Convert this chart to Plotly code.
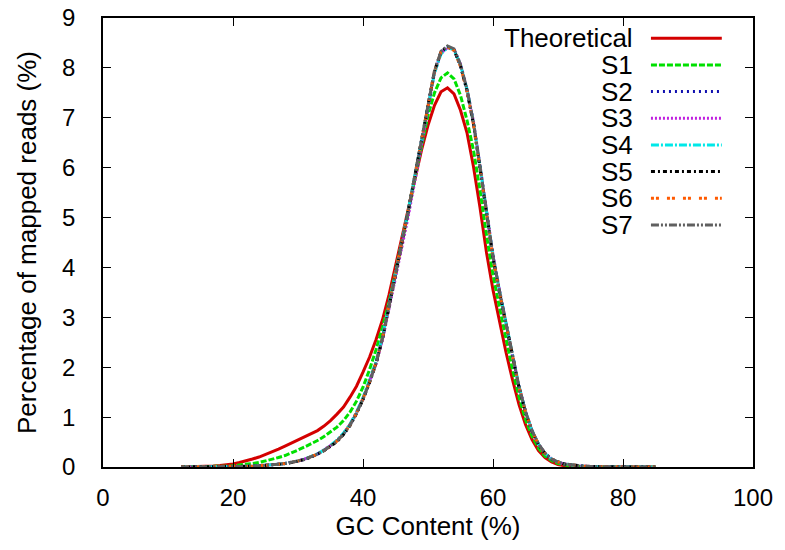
import plotly.graph_objects as go

# -----------------------
# Data
# -----------------------

gc = list(range(12, 86))

theoretical = [
    0.0, 0.002, 0.004, 0.006, 0.01, 0.02, 0.03, 0.045, 0.06, 0.09,      # 12-21
    0.12, 0.16, 0.2, 0.25, 0.3, 0.36, 0.42, 0.48, 0.54, 0.6,           # 22-31
    0.66, 0.73, 0.82, 0.93, 1.06, 1.2, 1.4, 1.62, 1.9, 2.2,            # 32-41
    2.55, 2.95, 3.45, 4.02, 4.6, 5.2, 5.78, 6.35, 6.85, 7.25,          # 42-51
    7.52, 7.6, 7.48, 7.15, 6.7, 6.02, 5.2, 4.3, 3.55, 2.9,             # 52-61
    2.3, 1.75, 1.25, 0.85, 0.55, 0.33, 0.19, 0.1, 0.05, 0.025,         # 62-71
    0.012, 0.006, 0.003, 0.002, 0.001, 0.0, 0.0, 0.0, 0.0, 0.0,        # 72-81
    0.0, 0.0, 0.0, 0.0,                                                # 82-85
]

s1 = [
    0.0, 0.001, 0.002, 0.003, 0.005, 0.008, 0.012, 0.018, 0.026, 0.036,
    0.05, 0.07, 0.09, 0.12, 0.15, 0.19, 0.23, 0.28, 0.34, 0.4,
    0.46, 0.53, 0.61, 0.7, 0.8, 0.93, 1.1, 1.32, 1.6, 1.95,
    2.35, 2.8, 3.3, 3.9, 4.5, 5.15, 5.8, 6.45, 7.05, 7.5,
    7.8, 7.9, 7.78, 7.45, 6.95, 6.35, 5.55, 4.65, 3.85, 3.2,
    2.55, 1.95, 1.4, 0.95, 0.62, 0.38, 0.22, 0.13, 0.07, 0.04,
    0.02, 0.01, 0.005, 0.003, 0.002, 0.001, 0.0, 0.0, 0.0, 0.0,
    0.0, 0.0, 0.0, 0.0,
]

s2 = [
    0.0, 0.0, 0.001, 0.001, 0.002, 0.002, 0.003, 0.004, 0.005, 0.008,
    0.012, 0.016, 0.022, 0.03, 0.04, 0.055, 0.07, 0.09, 0.12, 0.155,
    0.2, 0.26, 0.33, 0.42, 0.52, 0.66, 0.84, 1.08, 1.36, 1.7,
    2.08, 2.58, 3.2, 3.85, 4.5, 5.15, 5.85, 6.55, 7.25, 7.92,
    8.3, 8.42, 8.36, 8.05, 7.55, 6.88, 6.0, 5.1, 4.2, 3.5,
    2.85, 2.2, 1.6, 1.1, 0.72, 0.45, 0.27, 0.16, 0.1, 0.06,
    0.04, 0.025, 0.015, 0.01, 0.006, 0.004, 0.002, 0.001, 0.001, 0.0,
    0.0, 0.0, 0.0, 0.0,
]

s3 = [
    0.0, 0.0, 0.001, 0.001, 0.002, 0.002, 0.003, 0.004, 0.006, 0.009,
    0.013, 0.017, 0.023, 0.031, 0.042, 0.056, 0.072, 0.093, 0.12, 0.16,
    0.2, 0.26, 0.34, 0.43, 0.53, 0.67, 0.85, 1.09, 1.37, 1.7,
    2.07, 2.55, 3.15, 3.78, 4.42, 5.05, 5.72, 6.45, 7.2, 7.9,
    8.3, 8.4, 8.37, 8.08, 7.58, 6.92, 6.05, 5.15, 4.25, 3.55,
    2.88, 2.23, 1.62, 1.12, 0.73, 0.46, 0.28, 0.16, 0.1, 0.06,
    0.04, 0.025, 0.015, 0.01, 0.006, 0.004, 0.002, 0.001, 0.001, 0.0,
    0.0, 0.0, 0.0, 0.0,
]

s4 = [
    0.0, 0.0, 0.001, 0.001, 0.002, 0.002, 0.003, 0.004, 0.005, 0.008,
    0.012, 0.017, 0.023, 0.031, 0.041, 0.056, 0.072, 0.092, 0.122, 0.158,
    0.205, 0.265, 0.34, 0.43, 0.54, 0.68, 0.86, 1.1, 1.39, 1.73,
    2.11, 2.62, 3.24, 3.88, 4.53, 5.17, 5.86, 6.55, 7.24, 7.9,
    8.28, 8.41, 8.36, 8.06, 7.57, 6.9, 6.03, 5.13, 4.23, 3.53,
    2.88, 2.22, 1.62, 1.11, 0.73, 0.46, 0.27, 0.16, 0.1, 0.06,
    0.04, 0.025, 0.015, 0.01, 0.006, 0.004, 0.002, 0.001, 0.001, 0.0,
    0.0, 0.0, 0.0, 0.0,
]

s5 = [
    0.0, 0.0, 0.001, 0.001, 0.002, 0.002, 0.003, 0.004, 0.005, 0.008,
    0.011, 0.015, 0.021, 0.029, 0.039, 0.053, 0.068, 0.088, 0.118, 0.152,
    0.196, 0.255, 0.325, 0.415, 0.51, 0.65, 0.83, 1.07, 1.35, 1.69,
    2.07, 2.57, 3.19, 3.84, 4.5, 5.16, 5.87, 6.57, 7.27, 7.94,
    8.32, 8.43, 8.36, 8.04, 7.54, 6.87, 6.0, 5.1, 4.2, 3.5,
    2.85, 2.2, 1.6, 1.1, 0.72, 0.45, 0.27, 0.16, 0.1, 0.06,
    0.04, 0.025, 0.015, 0.01, 0.006, 0.004, 0.002, 0.001, 0.001, 0.0,
    0.0, 0.0, 0.0, 0.0,
]

s6 = [
    0.0, 0.0, 0.001, 0.001, 0.002, 0.002, 0.003, 0.004, 0.005, 0.008,
    0.012, 0.016, 0.022, 0.03, 0.04, 0.055, 0.07, 0.09, 0.12, 0.156,
    0.2, 0.26, 0.33, 0.42, 0.52, 0.66, 0.84, 1.08, 1.37, 1.71,
    2.09, 2.59, 3.21, 3.86, 4.52, 5.17, 5.87, 6.56, 7.26, 7.93,
    8.31, 8.42, 8.35, 8.03, 7.53, 6.86, 5.99, 5.09, 4.19, 3.49,
    2.84, 2.2, 1.6, 1.1, 0.72, 0.45, 0.27, 0.16, 0.1, 0.06,
    0.04, 0.025, 0.015, 0.01, 0.006, 0.004, 0.002, 0.001, 0.001, 0.0,
    0.0, 0.0, 0.0, 0.0,
]

s7 = [
    0.0, 0.0, 0.001, 0.001, 0.002, 0.002, 0.003, 0.004, 0.005, 0.008,
    0.012, 0.016, 0.022, 0.03, 0.04, 0.054, 0.07, 0.09, 0.12, 0.154,
    0.2, 0.258, 0.33, 0.42, 0.52, 0.66, 0.84, 1.08, 1.36, 1.7,
    2.08, 2.58, 3.2, 3.85, 4.5, 5.16, 5.86, 6.56, 7.26, 7.94,
    8.33, 8.44, 8.38, 8.07, 7.57, 6.9, 6.02, 5.12, 4.22, 3.52,
    2.87, 2.21, 1.61, 1.11, 0.73, 0.46, 0.28, 0.16, 0.1, 0.06,
    0.04, 0.025, 0.015, 0.01, 0.006, 0.004, 0.002, 0.001, 0.001, 0.0,
    0.0, 0.0, 0.0, 0.0,
]

names = ["Theoretical", "S1", "S2", "S3", "S4", "S5", "S6", "S7"]
values = [theoretical, s1, s2, s3, s4, s5, s6, s7]

colors = ["#d40000", "#00e000", "#1010b0", "#c020e0", "#00e8e8", "#000000", "#ff5a00", "#606060"]
dashes = [
    "solid",
    "6px,2px",
    "2px,4px",
    "2px,2px",
    "8px,2px,2px,2px",
    "4px,3px,2px,3px",
    "3px,2px,3px,8px",
    "8px,2px,2px,2px,2px,2px",
]

FONT = "Liberation Sans, Arial, sans-serif"

# -----------------------
# Figure
# -----------------------

fig = go.Figure()

for name, y, c, d in zip(names, values, colors, dashes):
    fig.add_trace(go.Scatter(
        x=gc, y=y, name=name, mode="lines",
        line=dict(color=c, width=3, dash=d),
        showlegend=False,
    ))

# gnuplot-style key: label right-aligned, sample line to its right
row0 = 0.955
step = 0.0594
for i, (name, c, d) in enumerate(zip(names, colors, dashes)):
    yy = row0 - i * step
    fig.add_annotation(
        x=0.818, y=yy, xref="paper", yref="paper", text=name,
        showarrow=False, xanchor="right", yanchor="middle",
        font=dict(family=FONT, size=26, color="black"),
    )
    fig.add_shape(
        type="line", xref="paper", yref="paper",
        x0=0.843, x1=0.952, y0=yy, y1=yy,
        line=dict(color=c, width=3, dash=d),
    )

axis_common = dict(
    showline=True, linecolor="black", linewidth=1.5, mirror="ticks",
    ticks="inside", ticklen=8, tickwidth=1.2, tickcolor="black",
    showgrid=False, zeroline=False, ticklabeloverflow="allow",
    tickfont=dict(family=FONT, size=24, color="black"),
)

fig.update_xaxes(
    range=[0, 100], dtick=20, tick0=0,
    title=dict(text="GC Content (%)", font=dict(family=FONT, size=26, color="black"), standoff=2),
    ticklabelstandoff=8,
    **axis_common,
)
fig.update_yaxes(
    range=[0, 9], dtick=1, tick0=0,
    title=dict(text="Percentage of mapped reads (%)", font=dict(family=FONT, size=26, color="black"), standoff=18),
    ticklabelstandoff=21,
    **axis_common,
)

# the page adds an 8px body margin, so the figure is made 8px smaller
fig.update_layout(
    width=777, height=542,
    margin=dict(l=95, r=32, t=10, b=83, autoexpand=False),
    plot_bgcolor="white", paper_bgcolor="white",
)

fig.write_html("out.html")
